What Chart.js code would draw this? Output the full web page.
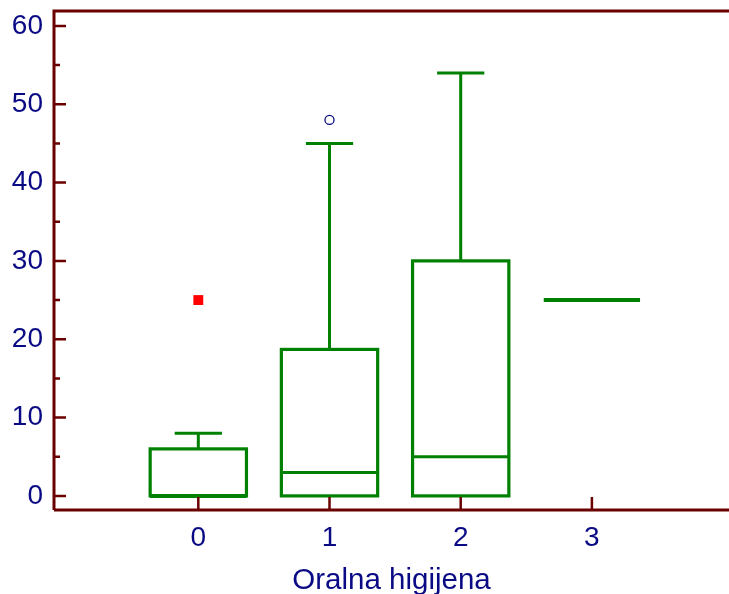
<!DOCTYPE html>
<html>
<head>
<meta charset="utf-8">
<script src="https://cdn.jsdelivr.net/npm/chart.js@4/dist/chart.umd.min.js"></script>
<style>
  html, body { margin: 0; padding: 0; background: #fff; }
  #wrap { width: 729px; height: 594px; }
</style>
</head>
<body>
<div id="wrap"><canvas id="boxChart"></canvas></div>
<script>
// Oralna higijena - box plot po skupinama
var categories = [0, 1, 2, 3];
var q1 = [0, 0, 0, 25];
var median = [0, 3, 5, 25];
var q3 = [6, 18.7, 30, 25];
var whiskerLow = [0, 0, 0, 25];
var whiskerHigh = [8, 45, 54, 25];
var outsideValues = [{ x: 1, y: 48 }];
var farOutValues = [{ x: 0, y: 25 }];
var xTicks = [0, 1, 2, 3];
var yTicks = [0, 10, 20, 30, 40, 50, 60];
var yMinorTicks = [5, 15, 25, 35, 45, 55];

var AXIS = "#6b0000";
var GREEN = "#008000";
var NAVY = "#0a0a85";
var FONT = "'Liberation Sans', Arial, sans-serif";

// crta kutije, brkove i okvir osi preko skala
var boxPlugin = {
  id: "boxPlugin",
  beforeDatasetsDraw: function (chart) {
    var ctx = chart.ctx;
    var xs = chart.scales.x;
    var ys = chart.scales.y;
    var boxHalf = 0.367;
    var capHalf = 0.18;

    ctx.save();
    ctx.strokeStyle = GREEN;
    ctx.lineCap = "butt";
    ctx.lineJoin = "miter";
    for (var i = 0; i < categories.length; i++) {
      var c = categories[i];
      var xl = xs.getPixelForValue(c - boxHalf);
      var xr = xs.getPixelForValue(c + boxHalf);
      var xc = xs.getPixelForValue(c);
      var yq1 = ys.getPixelForValue(q1[i]);
      var yq3 = ys.getPixelForValue(q3[i]);
      var ymed = ys.getPixelForValue(median[i]);

      if (q3[i] === q1[i] && whiskerHigh[i] === whiskerLow[i]) {
        // samo jedna vrijednost
        ctx.lineWidth = 4;
        ctx.beginPath();
        ctx.moveTo(xl, ymed);
        ctx.lineTo(xr, ymed);
        ctx.stroke();
        continue;
      }

      // brkovi
      ctx.lineWidth = 3;
      if (whiskerHigh[i] > q3[i]) {
        var yh = ys.getPixelForValue(whiskerHigh[i]);
        ctx.beginPath();
        ctx.moveTo(xc, yq3);
        ctx.lineTo(xc, yh);
        ctx.moveTo(xs.getPixelForValue(c - capHalf), yh);
        ctx.lineTo(xs.getPixelForValue(c + capHalf), yh);
        ctx.stroke();
      }
      if (whiskerLow[i] < q1[i]) {
        var yl = ys.getPixelForValue(whiskerLow[i]);
        ctx.beginPath();
        ctx.moveTo(xc, yq1);
        ctx.lineTo(xc, yl);
        ctx.moveTo(xs.getPixelForValue(c - capHalf), yl);
        ctx.lineTo(xs.getPixelForValue(c + capHalf), yl);
        ctx.stroke();
      }

      // kutija
      ctx.lineWidth = 3.2;
      ctx.strokeRect(xl, yq3, xr - xl, yq1 - yq3);

      // medijan
      ctx.lineWidth = median[i] === q1[i] ? 4 : 3;
      ctx.beginPath();
      ctx.moveTo(xl, ymed);
      ctx.lineTo(xr, ymed);
      ctx.stroke();
    }
    ctx.restore();
  },
  afterDraw: function (chart) {
    var ctx = chart.ctx;
    var xs = chart.scales.x;
    var ys = chart.scales.y;
    var a = chart.chartArea;

    ctx.save();
    ctx.strokeStyle = AXIS;
    ctx.lineWidth = 3;
    ctx.beginPath();
    ctx.moveTo(a.left, a.bottom);
    ctx.lineTo(a.left, a.top);
    ctx.lineTo(a.right, a.top);
    ctx.moveTo(a.left, a.bottom);
    ctx.lineTo(a.right, a.bottom);
    ctx.stroke();

    // oznake na osima (prema unutra)
    ctx.lineWidth = 2.5;
    ctx.beginPath();
    yTicks.forEach(function (v) {
      var y = ys.getPixelForValue(v);
      ctx.moveTo(a.left, y);
      ctx.lineTo(a.left + 12, y);
    });
    yMinorTicks.forEach(function (v) {
      var y = ys.getPixelForValue(v);
      ctx.moveTo(a.left, y);
      ctx.lineTo(a.left + 6, y);
    });
    xTicks.forEach(function (v) {
      var x = xs.getPixelForValue(v);
      ctx.moveTo(x, a.bottom);
      ctx.lineTo(x, a.bottom - 13);
    });
    ctx.stroke();
    ctx.restore();
  }
};

var ctx = document.getElementById("boxChart").getContext("2d");
var myChart = new Chart(ctx, {
  type: "scatter",
  data: {
    datasets: [
      {
        label: "outside",
        data: outsideValues,
        pointStyle: "circle",
        pointRadius: 4.5,
        borderColor: NAVY,
        borderWidth: 1.3,
        backgroundColor: "rgba(0,0,0,0)",
      },
      {
        label: "far out",
        data: farOutValues,
        pointStyle: "rect",
        pointRadius: 7,
        borderWidth: 0,
        backgroundColor: "#ff0000",
      },
    ],
  },
  options: {
    responsive: true,
    maintainAspectRatio: false,
    animation: false,
    devicePixelRatio: 1,
    layout: { autoPadding: false, padding: { top: 11, right: 0, left: 0, bottom: 0 } },
    plugins: {
      legend: { display: false },
      tooltip: { enabled: false },
    },
    scales: {
      x: {
        type: "linear",
        min: -1.1,
        max: 4.045,
        grid: { display: false, drawTicks: false },
        border: { display: false },
        afterBuildTicks: function (scale) {
          scale.ticks = xTicks.map(function (v) { return { value: v }; });
        },
        afterFit: function (scale) {
          scale.height = 84;
          scale.paddingLeft = 0;
          scale.paddingRight = 0;
        },
        ticks: {
          color: NAVY,
          font: { family: FONT, size: 28 },
          padding: 11,
          maxRotation: 0,
        },
        title: {
          display: true,
          text: "Oralna higijena",
          color: NAVY,
          font: { family: FONT, size: 29.5, lineHeight: 1 },
          padding: { top: 0, bottom: -2 },
        },
      },
      y: {
        min: -1.8,
        max: 61.9,
        grid: { display: false, drawTicks: false },
        border: { display: false },
        afterBuildTicks: function (scale) {
          scale.ticks = yTicks.map(function (v) { return { value: v }; });
        },
        afterFit: function (scale) {
          scale.width = 54;
          scale.paddingTop = 0;
          scale.paddingBottom = 0;
        },
        ticks: {
          color: NAVY,
          font: { family: FONT, size: 28 },
          padding: 11,
        },
      },
    },
  },
  plugins: [boxPlugin],
});
</script>
</body>
</html>
